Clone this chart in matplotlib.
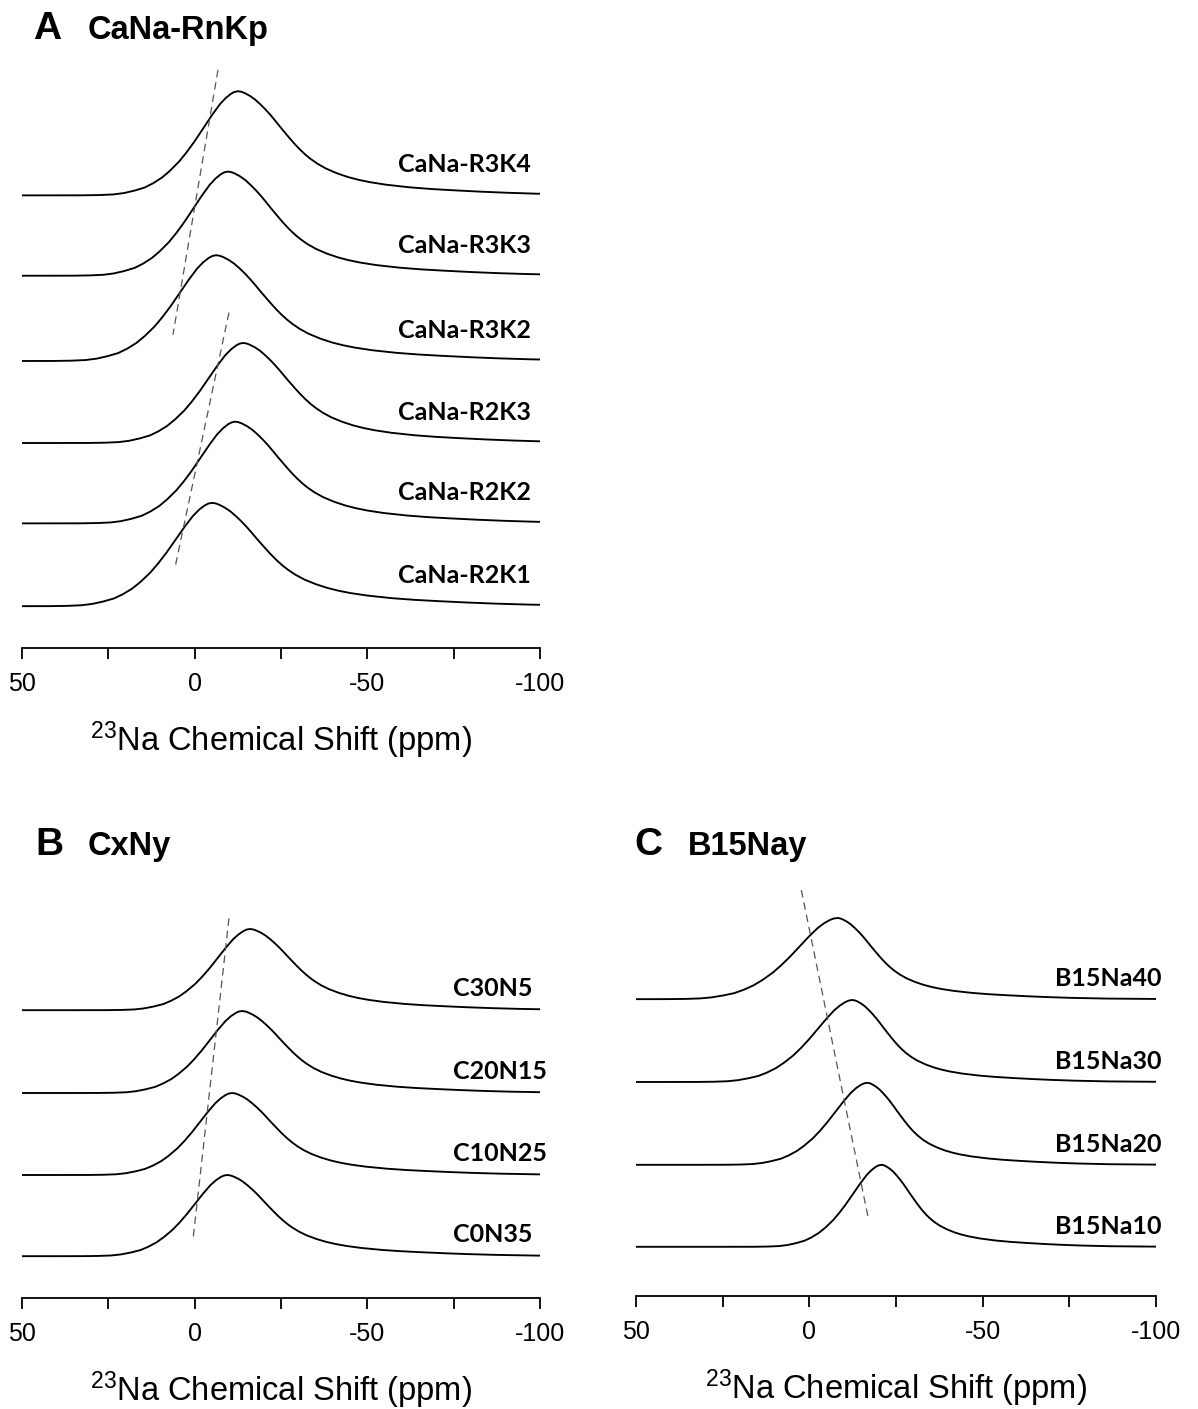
import matplotlib.pyplot as plt
import numpy as np

plt.rcParams['font.family'] = ['Liberation Sans', 'DejaVu Sans']
plt.rcParams['mathtext.default'] = 'regular'

W, H = 1198, 1409

# normalised 23Na line shape: offset from the peak maximum (ppm, + = downfield) and relative intensity
shape_ppm = [200, 55, 45, 40, 36, 33, 30, 27, 24.6, 22, 19.7, 17, 14.8, 12.5, 10.1, 7.5, 5.2, 3.5, 2, 1, 0,
             -1, -2, -3.5, -5, -6.5, -8, -9.5, -11, -12.2, -13.7, -15.1, -16.5, -18, -19.5, -21, -23,
             -25.5, -28.7, -32, -35, -38.2, -43, -49.8, -56, -62.3, -70, -78, -86.6, -100, -120, -200]
shape_int = [0, 0, 0.0004, 0.003, 0.009, 0.022, 0.045, 0.075, 0.115, 0.17, 0.235, 0.325, 0.415, 0.52,
             0.64, 0.77, 0.875, 0.935, 0.975, 0.993, 1.0,
             0.995, 0.982, 0.955, 0.92, 0.875, 0.825, 0.77, 0.71, 0.66, 0.60, 0.545, 0.492, 0.44, 0.393,
             0.352, 0.305, 0.258, 0.212, 0.175, 0.149, 0.127, 0.102, 0.077, 0.061, 0.049, 0.036, 0.025,
             0.016, 0.007, 0.002, 0]

# A: CaNa-RnKp series
a_names = ['CaNa-R2K1', 'CaNa-R2K2', 'CaNa-R2K3', 'CaNa-R3K2', 'CaNa-R3K3', 'CaNa-R3K4']
a_peak = [-5.0, -11.7, -14.0, -6.2, -9.6, -12.5]
a_base = [0.51, 1.52, 2.50, 3.50, 4.54, 5.52]
a_height = [1.26, 1.24, 1.22, 1.29, 1.27, 1.27]
a_wl = [1.05, 1.0, 1.0, 1.05, 1.0, 1.0]
a_wr = [1.05, 1.0, 1.0, 1.05, 1.0, 1.0]
a_guides = [([-6.75, 6.28], [7.05, 3.82]), ([-9.93, 5.7], [4.09, 0.98])]

# B: CxNy series
b_names = ['C0N35', 'C10N25', 'C20N15', 'C30N5']
b_peak = [-9.4, -10.8, -13.7, -16.0]
b_base = [0.51, 1.50, 2.50, 3.51]
b_height = [0.99, 1.0, 1.0, 0.99]
b_wl = [0.93, 0.93, 0.93, 0.93]
b_wr = [0.9, 0.9, 0.9, 0.9]
b_guides = [([-9.93, 0.49], [4.63, 0.71])]

# C: B15Nay series
c_names = ['B15Na10', 'B15Na20', 'B15Na30', 'B15Na40']
c_peak = [-20.8, -16.7, -12.4, -8.1]
c_base = [0.60, 1.60, 2.61, 3.62]
c_height = [1.0, 1.0, 1.0, 0.99]
c_wl = [0.82, 0.92, 1.0, 1.1]
c_wr = [0.66, 0.70, 0.74, 0.78]
c_guides = [([2.31, -17.0], [4.95, 0.95])]

ticks = [50, 25, 0, -25, -50, -75, -100]
tick_labels = ['50', '', '0', '', '-50', '', '-100']


def panel(rect_px, names, peak, base, height, wl, wr, guides, lab_ppm, lab_dy):
    x0, y_top, x1, y_axis = rect_px
    ax = fig.add_axes([x0 / W, 1 - y_axis / H, (x1 - x0) / W, (y_axis - y_top) / H])
    off = np.array(shape_ppm, dtype=float)
    inten = np.array(shape_int)
    for name, p, b, h, l, r in zip(names, peak, base, height, wl, wr):
        xs = p + np.where(off > 0, off * l, off * r)
        ax.plot(xs, b + h * inten, color='black', lw=1.35, solid_joinstyle='round')
        ax.text(lab_ppm, b + lab_dy, name, fontsize=18, fontweight='bold',
                family='Lato', ha='left', va='baseline')
    for gx, gy in guides:
        ax.plot(gx, gy, color='#555555', lw=0.9, linestyle=(0, (6, 4)))
    ax.set_xlim(50, -100)
    ax.set_ylim(0, (y_axis - y_top) / 82)
    for s in ['top', 'left', 'right']:
        ax.spines[s].set_visible(False)
    ax.spines['bottom'].set_linewidth(1.3)
    ax.set_yticks([])
    ax.set_xticks(ticks)
    ax.set_xticklabels(tick_labels)
    ax.tick_params(axis='x', direction='out', length=8, width=1.3, pad=9, labelsize=18)
    ax.set_xlabel('$^{23}$Na Chemical Shift (ppm)', fontsize=23.5)
    ax.xaxis.label.set_va('center')
    ax.xaxis.set_label_coords(0.5, -92 / (y_axis - y_top))
    ax.patch.set_alpha(0)
    return ax


fig = plt.figure(figsize=(W / 100, H / 100), dpi=100)

panel((22, 50, 540, 648), a_names, a_peak, a_base, a_height, a_wl, a_wr, a_guides, -58.9, 0.28)
panel((22, 880, 540, 1298), b_names, b_peak, b_base, b_height, b_wl, b_wr, b_guides, -74.9, 0.17)
panel((636, 880, 1156, 1296), c_names, c_peak, c_base, c_height, c_wl, c_wr, c_guides, -71.0, 0.16)

# panel letters and series titles
for letter, title, lx, tx, y in [('A', 'CaNa-RnKp', 33, 88, 39), ('B', 'CxNy', 35, 88, 855),
                                 ('C', 'B15Nay', 634, 688, 855)]:
    fig.text(lx / W, 1 - y / H, letter, fontsize=28, fontweight='bold', va='baseline')
    fig.text(tx / W, 1 - y / H, title, fontsize=23.5, fontweight='bold', va='baseline')

fig.savefig('out.png', dpi=100)
